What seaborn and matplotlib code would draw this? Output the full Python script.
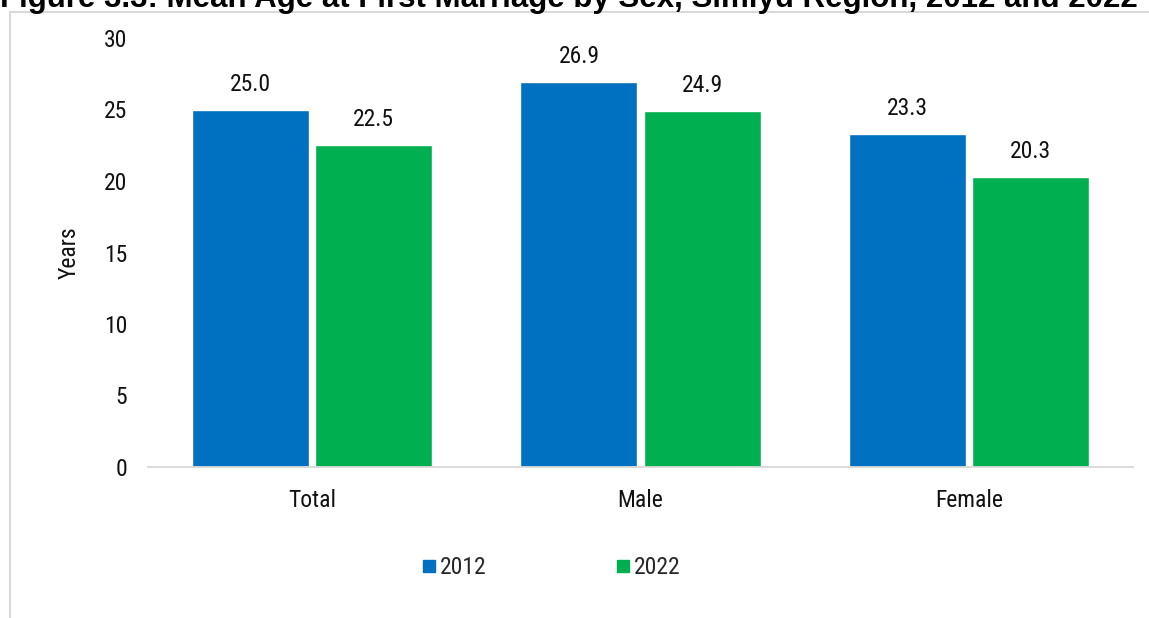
import matplotlib
matplotlib.use("Agg")
import matplotlib.pyplot as plt
import matplotlib.font_manager as fm
import seaborn as sns
import pandas as pd
from matplotlib.patches import Rectangle
from matplotlib.lines import Line2D

categories = ["Total", "Male", "Female"]
years = ["2012", "2022"]
values_2012 = [25.0, 26.9, 23.3]
values_2022 = [22.5, 24.9, 20.3]
colors = ["#0070C0", "#00B050"]
title = "Figure 3.3: Mean Age at First Marriage by Sex, Simiyu Region, 2012 and 2022"

sns.set_style("white")
names = {f.name for f in fm.fontManager.ttflist}
narrow = None
for cand in ["Liberation Sans Narrow", "Arial Narrow", "Roboto Condensed",
             "Open Sans Condensed", "Noto Sans Condensed"]:
    if cand in names:
        narrow = cand
        break
fam = ([narrow] if narrow else []) + ["Liberation Sans", "DejaVu Sans"]
plt.rcParams["font.family"] = fam
fs = 17 if narrow else 15

df = pd.DataFrame({
    "Sex": categories * 2,
    "Year": [years[0]] * 3 + [years[1]] * 3,
    "Value": values_2012 + values_2022,
})

W, H = 1149, 618
fig = plt.figure(figsize=(W / 100, H / 100), dpi=100)
ax = fig.add_axes([148 / W, 1 - 467 / H, (1133 - 148) / W, (467 - 38) / H])

sns.barplot(data=df, x="Sex", y="Value", hue="Year", order=categories,
            hue_order=years, palette=colors, width=0.75, gap=0.05,
            saturation=1, ax=ax, legend=False)

for cont in ax.containers:
    ax.bar_label(cont, fmt="%.1f", padding=10, fontsize=fs, color="#111111")

ax.set_ylim(0, 30)
ax.set_xlim(-0.5, 2.5)
ax.set_yticks(range(0, 31, 5))
ax.tick_params(axis="y", labelsize=fs, length=0, pad=15, colors="#111111")
ax.tick_params(axis="x", labelsize=fs, length=0, pad=16, colors="#111111")
ax.set_xlabel("")
ax.set_ylabel("Years", fontsize=fs, color="#111111", labelpad=17)
for s in ["top", "right", "left"]:
    ax.spines[s].set_visible(False)
ax.spines["bottom"].set_color("#D9D9D9")
ax.spines["bottom"].set_linewidth(1.3)

# chart frame
fig.patches.append(Rectangle((10 / W, -0.1), 1.2, 1 - 12 / H + 0.1,
                             transform=fig.transFigure, fill=False,
                             edgecolor="#D9D9D9", linewidth=1.5))

# title (clipped at top and right as in the reference)
fig.text(0.0, 1 - 7 / H, title, fontsize=22.5, fontweight="bold",
         family=["Liberation Sans", "DejaVu Sans"],
         ha="left", va="baseline", color="black")

handles = [Line2D([], [], marker="s", linestyle="none", markersize=9,
                  markerfacecolor=c, markeredgecolor=c) for c in colors]
fig.legend(handles, years, loc="center", bbox_to_anchor=(550 / W, 1 - 568 / H),
           ncol=2, frameon=False, fontsize=fs, columnspacing=5.4,
           handletextpad=0.05, handlelength=0.8)

fig.savefig("out.png", dpi=100)
